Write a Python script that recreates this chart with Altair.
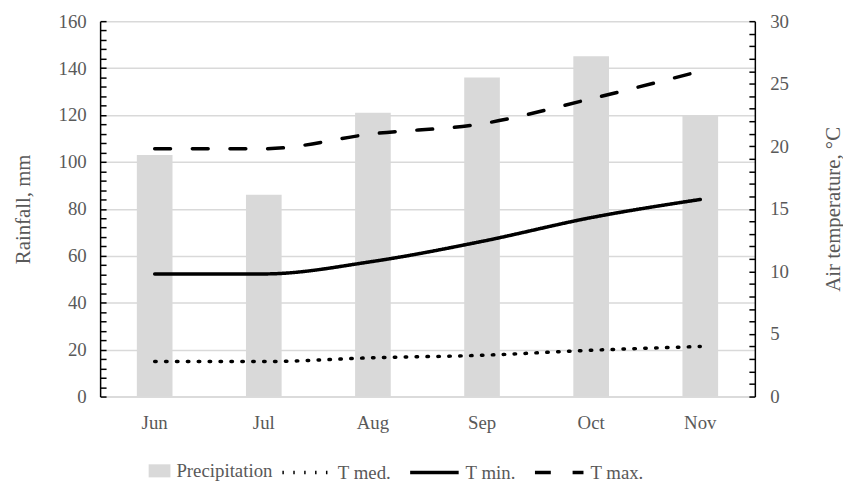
import altair as alt
import pandas as pd

months = ["Jun", "Jul", "Aug", "Sep", "Oct", "Nov"]
precip = [103, 86, 121, 136, 145, 120]
t_med = [2.8, 2.8, 3.1, 3.3, 3.7, 4.0]
t_min = [9.8, 9.8, 10.8, 12.4, 14.3, 15.75]
t_max = [19.8, 19.8, 21.0, 21.8, 23.8, 26.0]
series = ["T med.", "T min.", "T max."]
left_major = list(range(0, 161, 20))
left_minor = list(range(0, 161, 4))
right_major = list(range(0, 31, 5))
right_minor = list(range(0, 31, 1))

bar_df = pd.DataFrame({"Month": months, "Rainfall": precip, "Series": ["Precipitation"] * len(months)})
line_df = pd.DataFrame({
    "Month": months * 3,
    "Temp": t_med + t_min + t_max,
    "Series": [s for s in series for _ in months],
})

FONT = "Liberation Serif"
GREY = "#595959"
W, H = 661, 379
PL, PT = 93, 11

x_enc = alt.X(
    "Month:N", sort=months, title=None,
    scale=alt.Scale(paddingInner=0, paddingOuter=0),
    axis=alt.Axis(labelAngle=0, ticks=False, domainColor="#d9d9d9", domainWidth=1.5,
                  labelPadding=17),
)

bars = alt.Chart(bar_df).mark_bar(size=36).encode(
    x=x_enc,
    y=alt.Y("Rainfall:Q", scale=alt.Scale(domain=[0, 160], nice=False),
            axis=alt.Axis(orient="left", values=left_major, ticks=False, grid=True,
                          gridColor="#d9d9d9", gridWidth=1.5, domainColor="black",
                          domainWidth=1.5, title="Rainfall, mm", labelPadding=14,
                          titlePadding=25)),
    color=alt.Color("Series:N", scale=alt.Scale(domain=["Precipitation"], range=["#d9d9d9"]),
                    legend=alt.Legend(title=None, orient="none", legendX=49, legendY=443,
                                      symbolType="M-1,-0.6H1V0.6H-1Z",
                                      symbolSize=484, symbolStrokeWidth=0, labelOffset=6)),
)

left_ticks = alt.Chart(bar_df).mark_point(opacity=0).encode(
    y=alt.Y("Rainfall:Q", scale=alt.Scale(domain=[0, 160], nice=False),
            axis=alt.Axis(orient="right", offset=-W, values=left_minor, labels=False,
                          domain=False, grid=False, tickSize=6, tickColor="black",
                          tickWidth=1.5, title=None)),
)

lines = alt.Chart(line_df).mark_line(color="black", strokeWidth=3.5, interpolate="monotone",
                                     strokeCap="round").encode(
    x=x_enc,
    y=alt.Y("Temp:Q", scale=alt.Scale(domain=[0, 30], nice=False),
            axis=alt.Axis(orient="right", values=right_major, ticks=False, grid=False,
                          domainColor="black", domainWidth=1.5,
                          title="Air temperature, °C", titleAngle=270, labelPadding=15,
                          titlePadding=55)),
    strokeDash=alt.StrokeDash("Series:N",
                              scale=alt.Scale(domain=series, range=[[1.5, 9.5], [1, 0], [16, 22]]),
                              legend=alt.Legend(title=None, orient="none", legendX=182, legendY=429,
                                                direction="horizontal",
                                                symbolType="stroke", symbolSize=2400,
                                                symbolStrokeWidth=3.5, symbolStrokeColor="black",
                                                labelOffset=5, columnPadding=12)),
    detail="Series:N",
)

right_ticks = alt.Chart(line_df).mark_point(opacity=0).encode(
    y=alt.Y("Temp:Q", scale=alt.Scale(domain=[0, 30], nice=False),
            axis=alt.Axis(orient="left", offset=-W, values=right_minor, labels=False,
                          domain=False, grid=False, tickSize=6, tickColor="black",
                          tickWidth=1.5, title=None)),
)

chart = alt.layer(bars, left_ticks, lines, right_ticks).resolve_scale(
    y="independent", strokeDash="independent", color="independent"
).properties(
    width=W, height=H,
    autosize=alt.AutoSizeParams(type="none"),
    padding={"left": PL, "top": PT, "right": 843 - PL - W, "bottom": 476 - PT - H},
).configure(font=FONT).configure_view(stroke=None).configure_axis(
    labelFont=FONT, labelFontSize=19, labelColor=GREY,
    titleFont=FONT, titleFontSize=21, titleColor=GREY, titleFontWeight="normal",
).configure_legend(
    labelFont=FONT, labelFontSize=19, labelColor=GREY,
)

chart.save("out.html", embed_options={"renderer": "svg", "actions": False})
